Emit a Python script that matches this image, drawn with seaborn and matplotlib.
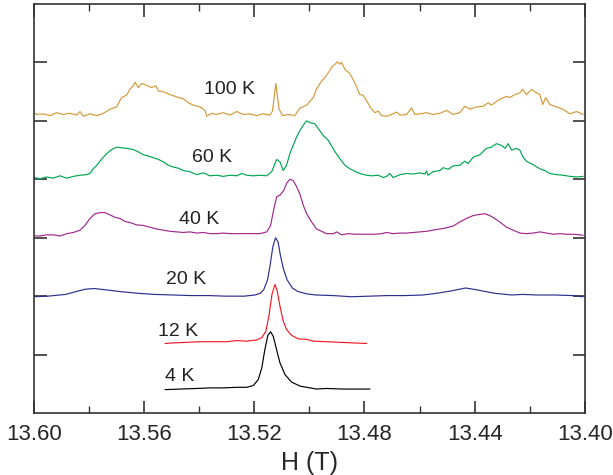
import numpy as np
import pandas as pd
import matplotlib
matplotlib.use("Agg")
import matplotlib.pyplot as plt
import seaborn as sns

# field (T) and intensity (relative to each trace's own baseline)
h_4k = [13.5524, 13.5470, 13.5409, 13.5361, 13.5313, 13.5264, 13.5228, 13.5204, 13.5186,
        13.5173, 13.5162, 13.5151, 13.5141, 13.5131, 13.5119, 13.5107, 13.5089, 13.5065,
        13.5034, 13.4998, 13.4974, 13.4938, 13.4877, 13.4817, 13.4780]
i_4k = [-0.01, 0.00, 0.01, 0.02, 0.02, 0.03, 0.03, 0.06, 0.16,
        0.36, 0.67, 0.92, 0.98, 0.90, 0.67, 0.45, 0.25, 0.12,
        0.05, 0.02, 0.00, 0.01, 0.00, 0.00, 0.00]

h_12k = [13.5524, 13.5494, 13.5446, 13.5397, 13.5349, 13.5301, 13.5264, 13.5228, 13.5192,
         13.5173, 13.5158, 13.5146, 13.5136, 13.5125, 13.5117, 13.5107, 13.5095, 13.5083,
         13.5065, 13.5041, 13.5010, 13.4986, 13.4938, 13.4889, 13.4841, 13.4792]
i_12k = [-0.01, 0.00, 0.01, 0.02, 0.02, 0.02, 0.04, 0.03, 0.05,
         0.09, 0.20, 0.49, 0.83, 1.00, 0.89, 0.63, 0.37, 0.23,
         0.13, 0.07, 0.06, 0.03, 0.02, 0.01, 0.00, -0.01]

h_20k = [13.6000, 13.5950, 13.5885, 13.5846, 13.5813, 13.5781, 13.5742, 13.5690, 13.5626,
         13.5561, 13.5496, 13.5431, 13.5366, 13.5302, 13.5237, 13.5198, 13.5178, 13.5166,
         13.5152, 13.5143, 13.5133, 13.5123, 13.5114, 13.5105, 13.5094, 13.5081, 13.5062,
         13.5042, 13.5010, 13.4977, 13.4913, 13.4848, 13.4783, 13.4718, 13.4653, 13.4588,
         13.4537, 13.4485, 13.4433, 13.4394, 13.4329, 13.4265, 13.4226, 13.4174, 13.4109,
         13.4044, 13.4008]
i_20k = [-0.01, 0.00, 0.03, 0.08, 0.12, 0.13, 0.11, 0.08, 0.05,
         0.03, 0.02, 0.01, 0.01, 0.00, 0.00, 0.02, 0.05, 0.11,
         0.28, 0.52, 0.84, 1.00, 0.93, 0.69, 0.46, 0.28, 0.14,
         0.08, 0.04, 0.02, 0.01, -0.01, 0.00, 0.01, 0.01, 0.02,
         0.05, 0.09, 0.14, 0.11, 0.05, 0.02, 0.03, 0.02, 0.02,
         0.01, -0.01]

h_40k = [13.6000, 13.5978, 13.5954, 13.5930, 13.5906, 13.5881, 13.5857, 13.5833, 13.5815,
         13.5797, 13.5779, 13.5760, 13.5742, 13.5724, 13.5706, 13.5688, 13.5670, 13.5652,
         13.5627, 13.5603, 13.5579, 13.5555, 13.5531, 13.5506, 13.5482, 13.5458, 13.5434,
         13.5409, 13.5385, 13.5361, 13.5337, 13.5313, 13.5289, 13.5264, 13.5240, 13.5216,
         13.5180, 13.5155, 13.5141, 13.5129, 13.5119, 13.5107, 13.5093, 13.5083, 13.5071,
         13.5059, 13.5046, 13.5034, 13.5022, 13.5010, 13.4992, 13.4974, 13.4956, 13.4938,
         13.4913, 13.4901, 13.4883, 13.4859, 13.4835, 13.4810, 13.4786, 13.4762, 13.4738,
         13.4720, 13.4696, 13.4671, 13.4647, 13.4623, 13.4599, 13.4575, 13.4551, 13.4526,
         13.4502, 13.4478, 13.4454, 13.4430, 13.4405, 13.4381, 13.4363, 13.4345, 13.4327,
         13.4309, 13.4284, 13.4260, 13.4236, 13.4212, 13.4188, 13.4163, 13.4139, 13.4115,
         13.4090, 13.4066, 13.4042, 13.4018, 13.4006]
i_40k = [-0.01, -0.01, 0.01, 0.01, -0.01, 0.03, 0.05, 0.09, 0.17,
         0.29, 0.37, 0.39, 0.39, 0.35, 0.31, 0.29, 0.24, 0.22,
         0.18, 0.17, 0.14, 0.11, 0.09, 0.07, 0.06, 0.05, 0.06,
         0.04, 0.05, 0.03, 0.03, 0.04, 0.03, 0.03, 0.03, 0.03,
         0.03, 0.06, 0.17, 0.46, 0.66, 0.69, 0.77, 0.89, 0.96,
         0.94, 0.83, 0.70, 0.51, 0.37, 0.23, 0.11, 0.07, 0.03,
         0.03, 0.06, 0.01, 0.03, 0.02, 0.02, 0.02, 0.02, 0.03,
         0.05, 0.03, 0.04, 0.04, 0.05, 0.06, 0.07, 0.09, 0.11,
         0.13, 0.16, 0.23, 0.29, 0.34, 0.36, 0.37, 0.34, 0.29,
         0.23, 0.14, 0.09, 0.04, 0.03, 0.04, 0.06, 0.04, 0.02,
         0.03, 0.02, 0.02, 0.01, 0.00]

h_60k = [13.6000, 13.5978, 13.5954, 13.5930, 13.5906, 13.5881, 13.5857, 13.5833, 13.5809,
         13.5797, 13.5785, 13.5772, 13.5754, 13.5736, 13.5718, 13.5700, 13.5682, 13.5664,
         13.5640, 13.5621, 13.5603, 13.5585, 13.5567, 13.5548, 13.5531, 13.5512, 13.5494,
         13.5476, 13.5458, 13.5434, 13.5409, 13.5385, 13.5361, 13.5337, 13.5313, 13.5289,
         13.5264, 13.5246, 13.5228, 13.5204, 13.5180, 13.5155, 13.5137, 13.5119, 13.5107,
         13.5095, 13.5083, 13.5071, 13.5059, 13.5046, 13.5034, 13.5022, 13.5010, 13.4998,
         13.4980, 13.4968, 13.4950, 13.4932, 13.4919, 13.4907, 13.4889, 13.4871, 13.4853,
         13.4835, 13.4817, 13.4792, 13.4774, 13.4750, 13.4732, 13.4720, 13.4708, 13.4696,
         13.4671, 13.4647, 13.4623, 13.4599, 13.4581, 13.4575, 13.4569, 13.4551, 13.4526,
         13.4514, 13.4496, 13.4478, 13.4454, 13.4436, 13.4424, 13.4405, 13.4381, 13.4357,
         13.4339, 13.4321, 13.4302, 13.4290, 13.4278, 13.4266, 13.4248, 13.4236, 13.4224,
         13.4212, 13.4188, 13.4163, 13.4145, 13.4127, 13.4103, 13.4079, 13.4054, 13.4030,
         13.4006]
i_60k = [-0.01, -0.03, 0.00, -0.02, 0.02, -0.02, 0.01, 0.03, 0.04,
         0.06, 0.14, 0.20, 0.31, 0.40, 0.47, 0.51, 0.50, 0.49,
         0.47, 0.43, 0.38, 0.36, 0.33, 0.30, 0.26, 0.20, 0.17,
         0.15, 0.11, 0.09, 0.04, 0.07, 0.02, 0.03, 0.01, 0.03,
         0.02, 0.06, 0.03, 0.02, 0.03, 0.02, 0.09, 0.30, 0.26,
         0.11, 0.20, 0.40, 0.54, 0.69, 0.80, 0.89, 0.96, 0.93,
         0.91, 0.83, 0.71, 0.63, 0.53, 0.43, 0.31, 0.20, 0.14,
         0.10, 0.06, 0.03, 0.02, 0.03, -0.01, 0.01, 0.06, -0.01,
         0.04, 0.06, 0.05, 0.07, 0.05, 0.10, 0.03, 0.09, 0.11,
         0.16, 0.13, 0.19, 0.20, 0.27, 0.23, 0.34, 0.38, 0.49,
         0.51, 0.57, 0.54, 0.49, 0.57, 0.46, 0.49, 0.46, 0.34,
         0.27, 0.21, 0.14, 0.11, 0.06, 0.04, 0.03, 0.01, 0.00,
         0.01]

h_100k = [13.6000, 13.5990, 13.5966, 13.5942, 13.5918, 13.5894, 13.5869, 13.5845, 13.5833,
          13.5821, 13.5797, 13.5772, 13.5748, 13.5724, 13.5700, 13.5682, 13.5664, 13.5652,
          13.5640, 13.5633, 13.5621, 13.5609, 13.5591, 13.5573, 13.5557, 13.5548, 13.5531,
          13.5506, 13.5482, 13.5458, 13.5440, 13.5422, 13.5397, 13.5379, 13.5373, 13.5355,
          13.5337, 13.5313, 13.5289, 13.5264, 13.5240, 13.5216, 13.5192, 13.5168, 13.5143,
          13.5134, 13.5122, 13.5110, 13.5097, 13.5077, 13.5053, 13.5034, 13.5010, 13.4986,
          13.4974, 13.4956, 13.4944, 13.4932, 13.4919, 13.4907, 13.4899, 13.4889, 13.4883,
          13.4871, 13.4853, 13.4835, 13.4817, 13.4805, 13.4792, 13.4774, 13.4762, 13.4750,
          13.4738, 13.4720, 13.4702, 13.4683, 13.4671, 13.4647, 13.4629, 13.4617, 13.4599,
          13.4575, 13.4551, 13.4526, 13.4502, 13.4478, 13.4454, 13.4436, 13.4417, 13.4393,
          13.4369, 13.4351, 13.4339, 13.4309, 13.4284, 13.4272, 13.4254, 13.4236, 13.4226,
          13.4212, 13.4193, 13.4175, 13.4163, 13.4153, 13.4142, 13.4127, 13.4109, 13.4090,
          13.4073, 13.4054, 13.4030, 13.4006]
i_100k = [0.03, 0.00, 0.01, -0.02, 0.03, 0.00, 0.02, -0.01, 0.05,
          -0.03, 0.01, -0.02, 0.02, 0.09, 0.13, 0.29, 0.33, 0.43,
          0.49, 0.55, 0.46, 0.53, 0.50, 0.46, 0.49, 0.40, 0.39,
          0.34, 0.30, 0.27, 0.20, 0.16, 0.13, 0.07, -0.03, 0.02,
          0.00, 0.03, -0.01, 0.05, 0.00, 0.01, -0.02, 0.01, -0.01,
          0.06, 0.53, 0.09, -0.02, 0.00, -0.02, 0.11, 0.16, 0.29,
          0.44, 0.57, 0.63, 0.71, 0.81, 0.86, 0.90, 0.86, 0.89,
          0.77, 0.70, 0.54, 0.34, 0.33, 0.23, 0.09, 0.03, 0.06,
          -0.02, -0.03, 0.00, 0.04, -0.01, 0.00, 0.11, 0.00, 0.01,
          0.03, 0.00, 0.02, 0.07, 0.00, 0.03, 0.14, 0.09, 0.13,
          0.14, 0.20, 0.16, 0.26, 0.31, 0.29, 0.34, 0.37, 0.43,
          0.34, 0.43, 0.37, 0.34, 0.17, 0.29, 0.17, 0.14, 0.11,
          0.07, 0.01, 0.05, 0.00]

temps = ["4 K", "12 K", "20 K", "40 K", "60 K", "100 K"]
offsets = [0.41, 1.20, 2.00, 3.04, 4.04, 5.11]
fields = [h_4k, h_12k, h_20k, h_40k, h_60k, h_100k]
intens = [i_4k, i_12k, i_20k, i_40k, i_60k, i_100k]
colors = ["#000000", "#ee1c25", "#2b2f8f", "#a3278f", "#00a651", "#d49a3a"]

sns.set_style("ticks")
plt.rcParams["font.family"] = ["Liberation Sans", "DejaVu Sans"]

fig = plt.figure(figsize=(6.13, 4.75), dpi=100)
ax = fig.add_axes([0.0555, 0.1305, 0.8985, 0.861])

for t, off, h, y, c in zip(temps, offsets, fields, intens, colors):
    df = pd.DataFrame({"H": h, "I": np.array(y) + off})
    sns.lineplot(data=df, x="H", y="I", color=c, lw=0.85, estimator=None,
                 sort=False, ax=ax, legend=False)

# temperature labels next to each trace
label_pos = [(13.5470, 0.62), (13.5476, 1.40), (13.5448, 2.28),
             (13.5401, 3.31), (13.5352, 4.37), (13.5289, 5.53)]
for t, (x, y) in zip(temps, label_pos):
    ax.text(x, y, t, fontsize=14, color="#222222", ha="center", va="center")

ax.set_xlim(13.60, 13.40)
ax.set_ylim(0, 7)
ax.set_xticks([13.60, 13.56, 13.52, 13.48, 13.44, 13.40])
ax.set_xticklabels(["13.60", "13.56", "13.52", "13.48", "13.44", "13.40"])
ax.set_xticks([13.58, 13.54, 13.50, 13.46, 13.42], minor=True)
ax.set_yticks([1, 2, 3, 4, 5, 6])
ax.set_yticklabels([])
ax.tick_params(which="major", direction="in", top=True, right=True,
               length=9, width=1.2, color="#333333", labelsize=16, pad=8)
ax.tick_params(which="minor", direction="in", top=True, right=False,
               length=5, width=1.0, color="#333333")
for s in ax.spines.values():
    s.set_linewidth(1.2)
    s.set_color("#333333")
ax.set_xlabel("H (T)", fontsize=18, labelpad=4)
ax.set_ylabel("")

fig.savefig("out.png", dpi=100)
